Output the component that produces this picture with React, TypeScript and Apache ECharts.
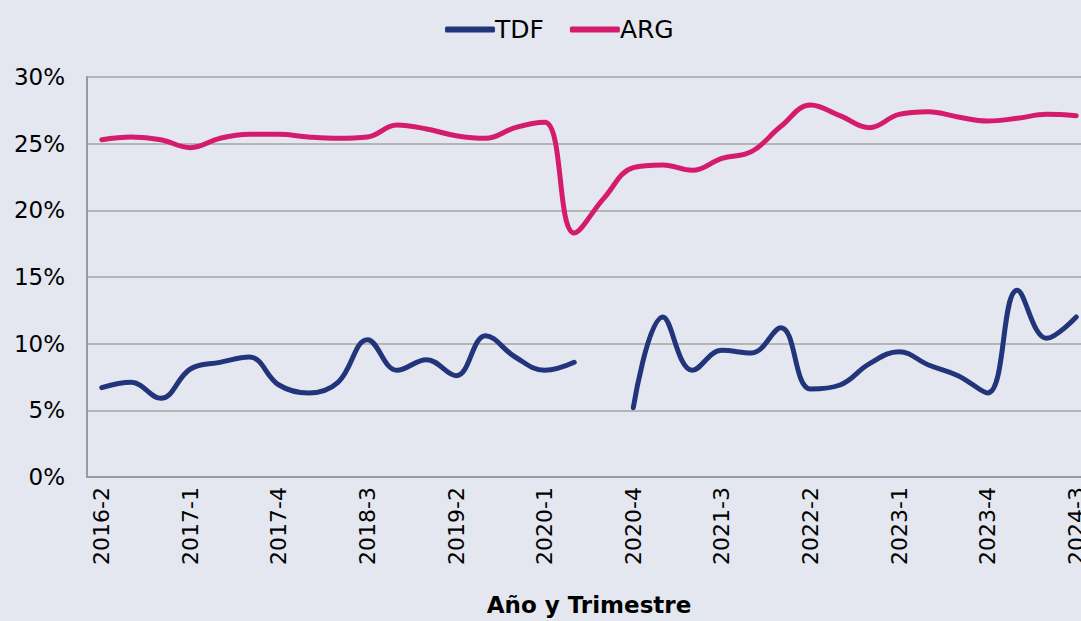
import React, { useEffect, useRef } from "react";
import * as echarts from "echarts";

const categories: string[] = [
  "2016-2", "2016-3", "2016-4",
  "2017-1", "2017-2", "2017-3", "2017-4",
  "2018-1", "2018-2", "2018-3", "2018-4",
  "2019-1", "2019-2", "2019-3", "2019-4",
  "2020-1", "2020-2", "2020-3", "2020-4",
  "2021-1", "2021-2", "2021-3", "2021-4",
  "2022-1", "2022-2", "2022-3", "2022-4",
  "2023-1", "2023-2", "2023-3", "2023-4",
  "2024-1", "2024-2", "2024-3",
];

const tdf: (number | null)[] = [
  6.7, 7.1, 5.9, 8.1, 8.6, 9.0, 6.9, 6.3, 7.1, 10.3, 8.0, 8.8, 7.6, 10.6, 9.0, 8.0, 8.6,
  null,
  5.2, 12.0, 8.0, 9.5, 9.3, 11.2, 6.6, 6.9, 8.5, 9.4, 8.4, 7.6, 6.3, 14.0, 10.4, 12.0,
];

const arg: number[] = [
  25.3, 25.5, 25.3, 24.7, 25.4, 25.7, 25.7, 25.5, 25.4, 25.5, 26.4, 26.1, 25.6, 25.4, 26.2, 26.6, 18.3,
  20.9, 23.2, 23.4, 23.0, 23.9, 24.4, 26.3, 27.9, 27.1, 26.2, 27.2, 27.4, 27.0, 26.7, 26.9, 27.2, 27.1,
];

const seriesNames = ["TDF", "ARG"];
const seriesColors = ["#22347A", "#D41B6C"];
const xTitle = "Año y Trimestre";

export default function App() {
  const ref = useRef<HTMLDivElement>(null);
  useEffect(() => {
    document.body.style.margin = "0";
    if (!ref.current) return;
    const chart = echarts.init(ref.current, undefined, { renderer: "svg" });
    const font = "DejaVu Sans";
    chart.setOption({
      animation: false,
      backgroundColor: "#E4E7EF",
      textStyle: { fontFamily: font },
      legend: {
        top: 12,
        left: 440,
        icon: "roundRect",
        itemWidth: 50,
        itemHeight: 6,
        itemGap: 26,
        textStyle: { fontSize: 25, color: "#000", fontFamily: font, padding: [0, 0, 0, -5] },
        data: seriesNames,
      },
      grid: { left: 87, top: 77, width: 1004, height: 400, containLabel: false, outerBoundsMode: "none" },
      xAxis: {
        type: "category",
        data: categories,
        boundaryGap: true,
        axisLine: { show: true, lineStyle: { color: "#9a9a9a", width: 2 } },
        axisTick: { show: false },
        axisLabel: {
          rotate: 90,
          interval: 2,
          margin: 10,
          fontSize: 22,
          color: "#000",
          fontFamily: font,
        },
        name: xTitle,
        nameLocation: "middle",
        nameGap: 116,
        nameTextStyle: { fontSize: 23, fontWeight: "bold", color: "#000", fontFamily: font },
      },
      yAxis: {
        type: "value",
        min: 0,
        max: 30,
        interval: 5,
        axisLine: { show: true, lineStyle: { color: "#9a9a9a", width: 2 } },
        axisTick: { show: false },
        axisLabel: { formatter: "{value}%", fontSize: 23, color: "#000", margin: 22, fontFamily: font },
        splitLine: { show: true, lineStyle: { color: "#b5b5b5", width: 2 } },
      },
      series: [
        {
          name: seriesNames[0],
          type: "line",
          data: tdf,
          smooth: 0.4,
          symbol: "none",
          connectNulls: false,
          lineStyle: { color: seriesColors[0], width: 5, cap: "round" },
          itemStyle: { color: seriesColors[0] },
        },
        {
          name: seriesNames[1],
          type: "line",
          data: arg,
          smooth: 0.4,
          symbol: "none",
          lineStyle: { color: seriesColors[1], width: 5, cap: "round" },
          itemStyle: { color: seriesColors[1] },
        },
      ],
    });
    return () => chart.dispose();
  }, []);
  return <div ref={ref} style={{ width: 1081, height: 621 }} />;
}
